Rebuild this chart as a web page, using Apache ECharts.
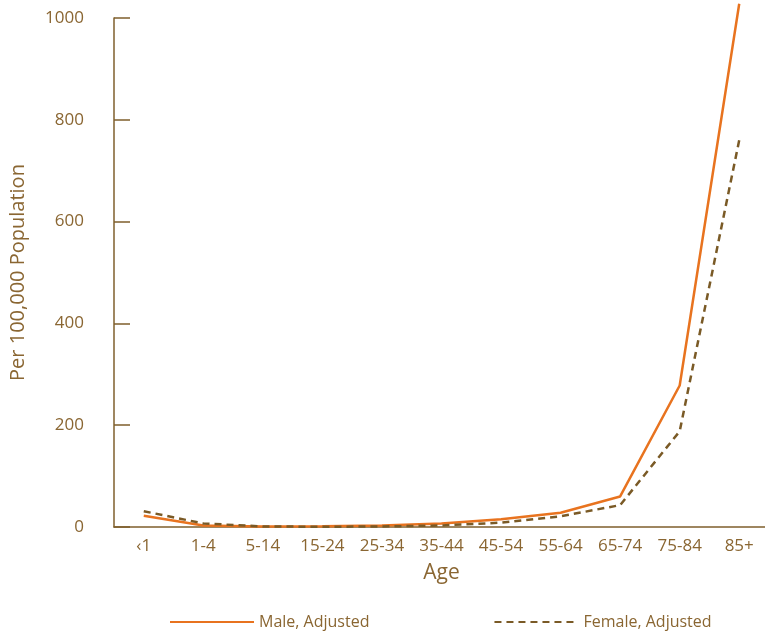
<!DOCTYPE html>
<html>
<head>
<meta charset="utf-8">
<script src="https://cdn.jsdelivr.net/npm/echarts@6/dist/echarts.min.js"></script>
<style>
  html, body { margin: 0; padding: 0; background: #fff; }
  #chart { width: 765px; height: 633px; }
</style>
</head>
<body>
<div id="chart"></div>
<script>
// age groups along the bottom
var ageGroups = ['\u20391', '1-4', '5-14', '15-24', '25-34', '35-44', '45-54', '55-64', '65-74', '75-84', '85+'];
// rates per 100,000
var maleAdjusted = [22, 3, 1, 1.5, 3, 7, 15, 28, 60, 278, 1028];
var femaleAdjusted = [31, 7, 1, 0.5, 1, 3, 8.5, 21, 43, 188, 760];
var yTicks = [0, 200, 400, 600, 800, 1000];

var brown = '#8a6632';
var axisBrown = '#7f5f2c';
var orange = '#e8731f';
var font = 'Open Sans';

var chart = echarts.init(document.getElementById('chart'));
chart.setOption({
    animation: false,
    textStyle: { fontFamily: font, color: brown },
    grid: { left: 114, right: -4, top: 18, bottom: 106, outerBoundsMode: 'none', containLabel: false },
    legend: {
        left: 164,
        top: 609,
        itemWidth: 84,
        itemHeight: 14,
        itemGap: 124,
        itemStyle: { opacity: 0 },
        textStyle: { fontFamily: font, fontSize: 16, color: brown },
        data: ['Male, Adjusted', 'Female, Adjusted']
    },
    xAxis: {
        type: 'category',
        data: ageGroups,
        boundaryGap: true,
        name: 'Age',
        nameLocation: 'middle',
        nameGap: 36,
        nameTextStyle: { fontFamily: font, fontSize: 21, color: brown },
        axisLine: { lineStyle: { color: axisBrown, width: 1.5 } },
        axisTick: {
            inside: true,
            length: 13,
            alignWithLabel: true,
            interval: function (i) { return i > 0; },
            lineStyle: { color: axisBrown, width: 1.5 }
        },
        axisLabel: { margin: 11, fontSize: 17, color: brown, fontFamily: font },
        splitLine: { show: false }
    },
    yAxis: {
        type: 'value',
        min: yTicks[0],
        max: yTicks[yTicks.length - 1],
        interval: 200,
        name: 'Per 100,000 Population',
        nameLocation: 'middle',
        nameGap: 86,
        nameRotate: 90,
        nameTextStyle: { fontFamily: font, fontSize: 20, color: brown },
        axisLine: { show: true, lineStyle: { color: axisBrown, width: 1.5 } },
        axisTick: { show: true, inside: true, length: 16, lineStyle: { color: axisBrown, width: 1.5 } },
        axisLabel: {
            margin: 30, fontSize: 17, color: brown, fontFamily: font,
            formatter: function (v) { return String(v); }
        },
        splitLine: { show: false }
    },
    series: [
        {
            name: 'Male, Adjusted',
            type: 'line',
            data: maleAdjusted,
            symbol: 'none',
            clip: false,
            color: orange,
            lineStyle: { color: orange, width: 2.5 }
        },
        {
            name: 'Female, Adjusted',
            type: 'line',
            data: femaleAdjusted,
            symbol: 'none',
            clip: false,
            color: axisBrown,
            lineStyle: { color: '#7a5a26', width: 2.5, type: [7, 5] }
        }
    ]
});
</script>
</body>
</html>
